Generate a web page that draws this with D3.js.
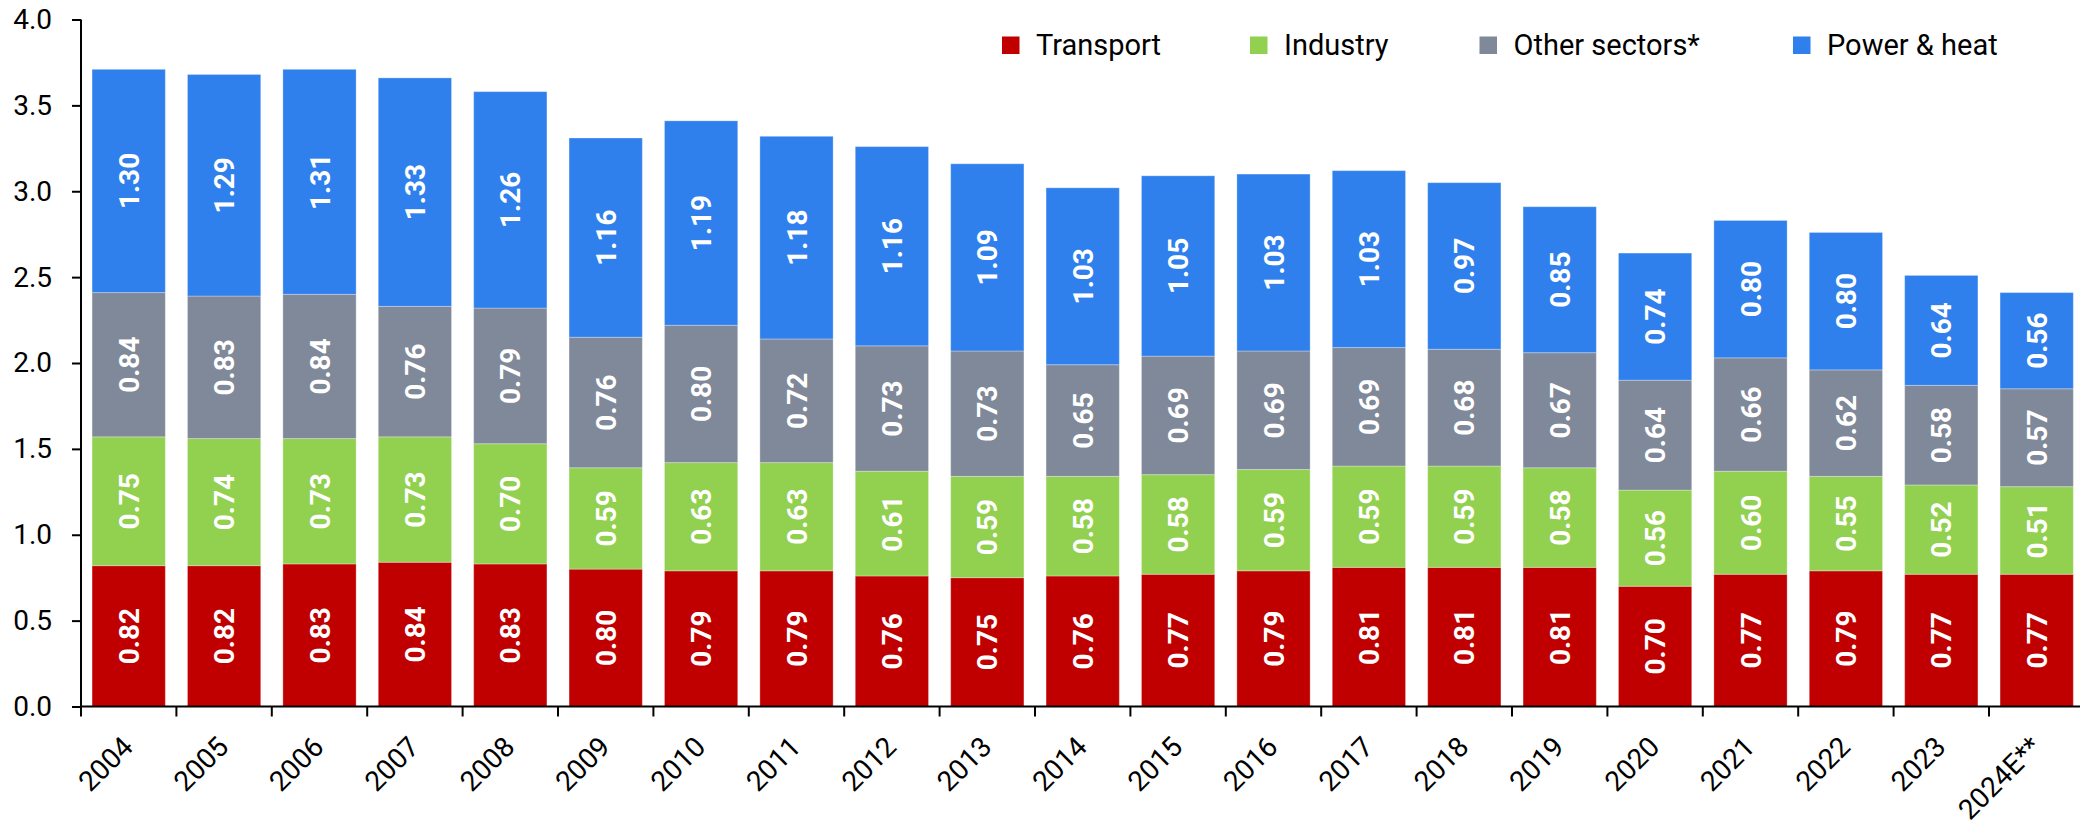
<!DOCTYPE html>
<html><head><meta charset="utf-8">
<script src="https://cdn.jsdelivr.net/npm/d3@7"></script>
<style>
html,body{margin:0;padding:0;background:#fff;}
svg{display:block;}
</style></head>
<body>
<svg id="chart" width="2080" height="829"></svg>
<script>
const years = ["2004","2005","2006","2007","2008","2009","2010","2011","2012","2013","2014","2015","2016","2017","2018","2019","2020","2021","2022","2023","2024E**"];
const seriesNames = ["Transport","Industry","Other sectors*","Power & heat"];
const transport = [0.82,0.82,0.83,0.84,0.83,0.80,0.79,0.79,0.76,0.75,0.76,0.77,0.79,0.81,0.81,0.81,0.70,0.77,0.79,0.77,0.77];
const industry  = [0.75,0.74,0.73,0.73,0.70,0.59,0.63,0.63,0.61,0.59,0.58,0.58,0.59,0.59,0.59,0.58,0.56,0.60,0.55,0.52,0.51];
const other     = [0.84,0.83,0.84,0.76,0.79,0.76,0.80,0.72,0.73,0.73,0.65,0.69,0.69,0.69,0.68,0.67,0.64,0.66,0.62,0.58,0.57];
const power     = [1.30,1.29,1.31,1.33,1.26,1.16,1.19,1.18,1.16,1.09,1.03,1.05,1.03,1.03,0.97,0.85,0.74,0.80,0.80,0.64,0.56];
const yTicks = [0,0.5,1.0,1.5,2.0,2.5,3.0,3.5,4.0];
const colors = ["#C00000","#92D050","#7F8999","#2F7FED"];

const keys = ["transport","industry","other","power"];
const rows = years.map((y,i)=>({year:y, transport:transport[i], industry:industry[i], other:other[i], power:power[i]}));
const stacked = d3.stack().keys(keys)(rows);

const svg = d3.select("#chart");
const FONT = "Roboto, 'Open Sans', sans-serif";
const left = 81, step = 95.4;
const x = d3.scaleBand().domain(years).range([left, left + step*years.length]).paddingInner(0.232).paddingOuter(0.116);
const y = d3.scaleLinear().domain([0,4]).range([706.5, 19.5]);

// bars
const g = svg.append("g");
stacked.forEach((s,si)=>{
  g.selectAll(null).data(s).enter().append("rect")
    .attr("x", d=>x(d.data.year))
    .attr("width", x.bandwidth())
    .attr("y", d=>y(d[1]))
    .attr("height", d=>y(d[0])-y(d[1]))
    .attr("fill", colors[si])
    .attr("stroke","rgba(255,255,255,0.3)")
    .attr("stroke-width",1);
  g.selectAll(null).data(s).enter().append("text")
    .attr("transform", d=>`translate(${x(d.data.year)+x.bandwidth()/2},${(y(d[0])+y(d[1]))/2}) rotate(-90)`)
    .attr("text-anchor","middle")
    .attr("dy","0.36em")
    .attr("fill","#fff")
    .attr("font-family",FONT)
    .attr("font-weight","bold")
    .attr("font-size",28)
    .text(d=>(d[1]-d[0]).toFixed(2));
});

// y axis
const yAxis = d3.axisLeft(y).tickValues(yTicks).tickFormat(d3.format(".1f")).tickSize(9).tickPadding(20);
const ya = svg.append("g").attr("transform",`translate(${left},0)`).call(yAxis);
ya.select(".domain").remove();
ya.selectAll(".tick line").attr("stroke","#000").attr("stroke-width",2);
ya.selectAll(".tick text").attr("font-family",FONT).attr("font-size",28).attr("fill","#000");
svg.append("line").attr("x1",left).attr("x2",left).attr("y1",y(4)).attr("y2",y(0)).attr("stroke","#000").attr("stroke-width",2);

// x axis
svg.append("line").attr("x1",left).attr("x2",2080).attr("y1",y(0)).attr("y2",y(0)).attr("stroke","#000").attr("stroke-width",2);
const bounds = years.map(d=>x(d) - x.step()*x.paddingInner()/2).concat([x(years[years.length-1]) + x.bandwidth() + x.step()*x.paddingInner()/2]);
svg.selectAll(null).data(bounds).enter().append("line")
  .attr("x1",d=>d).attr("x2",d=>d).attr("y1",y(0)).attr("y2",y(0)+10)
  .attr("stroke","#000").attr("stroke-width",2);
svg.selectAll(null).data(years).enter().append("text")
  .attr("transform", d=>`translate(${x(d)+x.bandwidth()/2+6},${y(0)+42}) rotate(-45)`)
  .attr("text-anchor","end")
  .attr("font-family",FONT).attr("font-size",28).attr("fill","#000")
  .text(d=>d);

// legend
const legX = [1002,1250,1479.5,1793];
const leg = svg.append("g");
seriesNames.forEach((n,i)=>{
  leg.append("rect").attr("x",legX[i]).attr("y",36.5).attr("width",17.5).attr("height",17.5).attr("fill",colors[i]);
  leg.append("text").attr("x",legX[i]+34).attr("y",55).attr("font-family",FONT).attr("font-size",29).attr("fill","#000").text(n);
});
</script>
</body></html>
